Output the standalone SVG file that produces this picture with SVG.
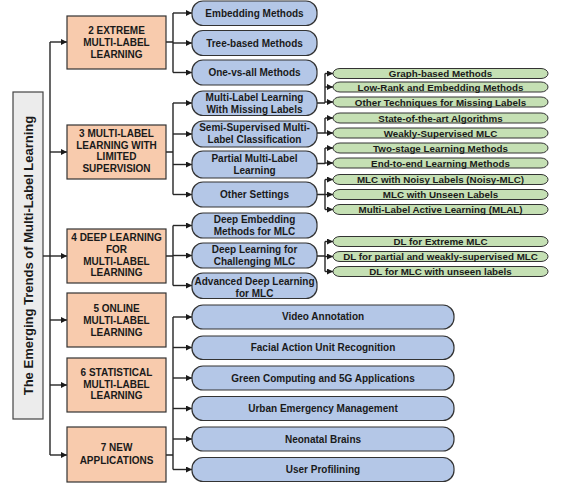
<svg xmlns="http://www.w3.org/2000/svg" width="561" height="488" viewBox="0 0 561 488">
<defs>
<marker id="ah" markerUnits="userSpaceOnUse" markerWidth="6" markerHeight="6" refX="6" refY="3" orient="auto">
<path d="M0,0 L6,3 L0,6 z" fill="#1a1a1a"/>
</marker>
<style>
text{font-family:"Liberation Sans",Arial,sans-serif;font-weight:bold;fill:#1a1a1a;text-anchor:middle}
.o rect{fill:#f8cbad;stroke:#333;stroke-width:1.2}
.b rect{fill:#b4c7e7;stroke:#333;stroke-width:1.2}
.g rect{fill:#c5e0b4;stroke:#333;stroke-width:1}
.o text,.b text{font-size:10px}
.g text{font-size:9.8px}
#connectors path{fill:none;stroke:#262626;stroke-width:1.4}
#connectors .a{marker-end:url(#ah)}
</style>
</defs>
<rect width="561" height="488" fill="#ffffff"/>

<g id="title">
<rect x="13" y="92" width="30" height="327" fill="#ececec" stroke="#444" stroke-width="1.2"/>
<text transform="translate(33,255.5) rotate(-90)" style="font-size:13px">The Emerging Trends of Multi-Label Learning</text>
</g>

<g id="connectors">
<path d="M50,42 V455"/>
<path d="M43,256 H50"/>
<path class="a" d="M50,42 H67"/>
<path class="a" d="M50,152 H67"/>
<path class="a" d="M50,256 H67"/>
<path class="a" d="M50,320 H67"/>
<path class="a" d="M50,385 H67"/>
<path class="a" d="M50,455 H67"/>

<path d="M166,42 H173 M173,13 V72.5"/>
<path class="a" d="M173,13 H192"/>
<path class="a" d="M173,43 H192"/>
<path class="a" d="M173,72.5 H192"/>

<path d="M166,152 H173 M173,103 V194.5"/>
<path class="a" d="M173,103 H192"/>
<path class="a" d="M173,134 H192"/>
<path class="a" d="M173,164.5 H192"/>
<path class="a" d="M173,194.5 H192"/>

<path d="M166,256 H173 M173,225.5 V285.5"/>
<path class="a" d="M173,225.5 H192"/>
<path class="a" d="M173,255.5 H192"/>
<path class="a" d="M173,285.5 H192"/>

<path d="M166,455 H173 M173,317 V469.5"/>
<path class="a" d="M173,317 H192"/>
<path class="a" d="M173,347.5 H192"/>
<path class="a" d="M173,378 H192"/>
<path class="a" d="M173,408.5 H192"/>
<path class="a" d="M173,439 H192"/>
<path class="a" d="M173,469.5 H192"/>

<path d="M317,103 H325 M325,73.5 V102.5"/>
<path class="a" d="M325,73.5 H333"/>
<path class="a" d="M325,87 H333"/>
<path class="a" d="M325,102 H333"/>

<path d="M317,133 H325 M325,118 V133"/>
<path class="a" d="M325,118 H333"/>
<path class="a" d="M325,133 H333"/>

<path d="M317,163.5 H325 M325,148 V163.5"/>
<path class="a" d="M325,148 H333"/>
<path class="a" d="M325,163 H333"/>

<path d="M317,194.5 H325 M325,179.5 V209.5"/>
<path class="a" d="M325,179.5 H333"/>
<path class="a" d="M325,194.5 H333"/>
<path class="a" d="M325,209.5 H333"/>

<path d="M317,256 H325 M325,241.5 V271.5"/>
<path class="a" d="M325,241.5 H333"/>
<path class="a" d="M325,256.5 H333"/>
<path class="a" d="M325,271.5 H333"/>
</g>

<g id="n2" class="o"><rect x="67" y="16" width="99" height="53"/>
<text x="116.5" y="34">2 EXTREME</text><text x="116.5" y="46">MULTI-LABEL</text><text x="116.5" y="57.5">LEARNING</text></g>
<g id="n3" class="o"><rect x="67" y="125" width="99" height="54"/>
<text x="116.5" y="137">3 MULTI-LABEL</text><text x="116.5" y="148.5">LEARNING WITH</text><text x="116.5" y="160">LIMITED</text><text x="116.5" y="172">SUPERVISION</text></g>
<g id="n4" class="o"><rect x="67" y="229" width="99" height="54"/>
<text x="116.5" y="241">4 DEEP LEARNING</text><text x="116.5" y="253">FOR</text><text x="116.5" y="264.5">MULTI-LABEL</text><text x="116.5" y="276">LEARNING</text></g>
<g id="n5" class="o"><rect x="67" y="293" width="99" height="54"/>
<text x="116.5" y="312">5 ONLINE</text><text x="116.5" y="324">MULTI-LABEL</text><text x="116.5" y="335.5">LEARNING</text></g>
<g id="n6" class="o"><rect x="67" y="358" width="99" height="54"/>
<text x="116.5" y="376">6 STATISTICAL</text><text x="116.5" y="387.5">MULTI-LABEL</text><text x="116.5" y="399">LEARNING</text></g>
<g id="n7" class="o"><rect x="67" y="427" width="99" height="55"/>
<text x="116.5" y="451">7 NEW</text><text x="116.5" y="463.5">APPLICATIONS</text></g>

<g id="b1" class="b"><rect x="192" y="1" width="125" height="24.5" rx="11"/><text x="254.5" y="16.5">Embedding Methods</text></g>
<g id="b2" class="b"><rect x="192" y="30.5" width="125" height="25" rx="11"/><text x="254.5" y="46.5">Tree-based Methods</text></g>
<g id="b3" class="b"><rect x="192" y="60" width="125" height="25" rx="11"/><text x="254.5" y="76">One-vs-all Methods</text></g>
<g id="b4" class="b"><rect x="192" y="91" width="125" height="24.5" rx="11"/><text x="254.5" y="101">Multi-Label Learning</text><text x="254.5" y="112.5">With Missing Labels</text></g>
<g id="b5" class="b"><rect x="192" y="121" width="125" height="26" rx="11"/><text x="254.5" y="131">Semi-Supervised Multi-</text><text x="254.5" y="142.5">Label Classification</text></g>
<g id="b6" class="b"><rect x="192" y="151" width="125" height="27" rx="11"/><text x="254.5" y="162">Partial Multi-Label</text><text x="254.5" y="174">Learning</text></g>
<g id="b7" class="b"><rect x="192" y="182" width="125" height="25" rx="11"/><text x="254.5" y="198">Other Settings</text></g>
<g id="b8" class="b"><rect x="192" y="213" width="125" height="25" rx="11"/><text x="254.5" y="222.5">Deep Embedding</text><text x="254.5" y="234.5">Methods for MLC</text></g>
<g id="b9" class="b"><rect x="192" y="243" width="125" height="25" rx="11"/><text x="254.5" y="252.5">Deep Learning for</text><text x="254.5" y="264.5">Challenging MLC</text></g>
<g id="b10" class="b"><rect x="192" y="273" width="125" height="25.5" rx="11"/><text x="254.5" y="284.5">Advanced Deep Learning</text><text x="254.5" y="296.5">for MLC</text></g>

<g id="a1" class="b"><rect x="192" y="305" width="262" height="24" rx="11"/><text x="323" y="320">Video Annotation</text></g>
<g id="a2" class="b"><rect x="192" y="336" width="262" height="23.5" rx="11"/><text x="323" y="351">Facial Action Unit Recognition</text></g>
<g id="a3" class="b"><rect x="192" y="366" width="262" height="24" rx="11"/><text x="323" y="381.5">Green Computing and 5G Applications</text></g>
<g id="a4" class="b"><rect x="192" y="396.5" width="262" height="24" rx="11"/><text x="323" y="412">Urban Emergency Management</text></g>
<g id="a5" class="b"><rect x="192" y="427" width="262" height="24" rx="11"/><text x="323" y="442.5">Neonatal Brains</text></g>
<g id="a6" class="b"><rect x="192" y="457.5" width="262" height="24" rx="11"/><text x="323" y="473">User Profilining</text></g>

<g id="g1" class="g"><rect x="333" y="68.5" width="215" height="10" rx="7" ry="5"/><text x="440.5" y="77">Graph-based Methods</text></g>
<g id="g2" class="g"><rect x="333" y="82" width="215" height="10" rx="7" ry="5"/><text x="440.5" y="90.5">Low-Rank and Embedding Methods</text></g>
<g id="g3" class="g"><rect x="333" y="97" width="215" height="10" rx="7" ry="5"/><text x="440.5" y="105.5">Other Techniques for Missing Labels</text></g>
<g id="g4" class="g"><rect x="333" y="113" width="215" height="10" rx="7" ry="5"/><text x="440.5" y="121.5">State-of-the-art Algorithms</text></g>
<g id="g5" class="g"><rect x="333" y="128" width="215" height="10" rx="7" ry="5"/><text x="440.5" y="136.5">Weakly-Supervised MLC</text></g>
<g id="g6" class="g"><rect x="333" y="143" width="215" height="10" rx="7" ry="5"/><text x="440.5" y="151.5">Two-stage Learning Methods</text></g>
<g id="g7" class="g"><rect x="333" y="158" width="215" height="10" rx="7" ry="5"/><text x="440.5" y="166.5">End-to-end Learning Methods</text></g>
<g id="g8" class="g"><rect x="333" y="174.5" width="215" height="10" rx="7" ry="5"/><text x="440.5" y="183">MLC with Noisy Labels (Noisy-MLC)</text></g>
<g id="g9" class="g"><rect x="333" y="189.5" width="215" height="10" rx="7" ry="5"/><text x="440.5" y="198">MLC with Unseen Labels</text></g>
<g id="g10" class="g"><rect x="333" y="204.5" width="215" height="10" rx="7" ry="5"/><text x="440.5" y="213">Multi-Label Active Learning (MLAL)</text></g>
<g id="g11" class="g"><rect x="333" y="236.5" width="215" height="10" rx="7" ry="5"/><text x="440.5" y="245">DL for Extreme MLC</text></g>
<g id="g12" class="g"><rect x="333" y="251.5" width="215" height="10" rx="7" ry="5"/><text x="440.5" y="260">DL for partial and weakly-supervised MLC</text></g>
<g id="g13" class="g"><rect x="333" y="266.5" width="215" height="10" rx="7" ry="5"/><text x="440.5" y="275">DL for MLC with unseen labels</text></g>
</svg>
